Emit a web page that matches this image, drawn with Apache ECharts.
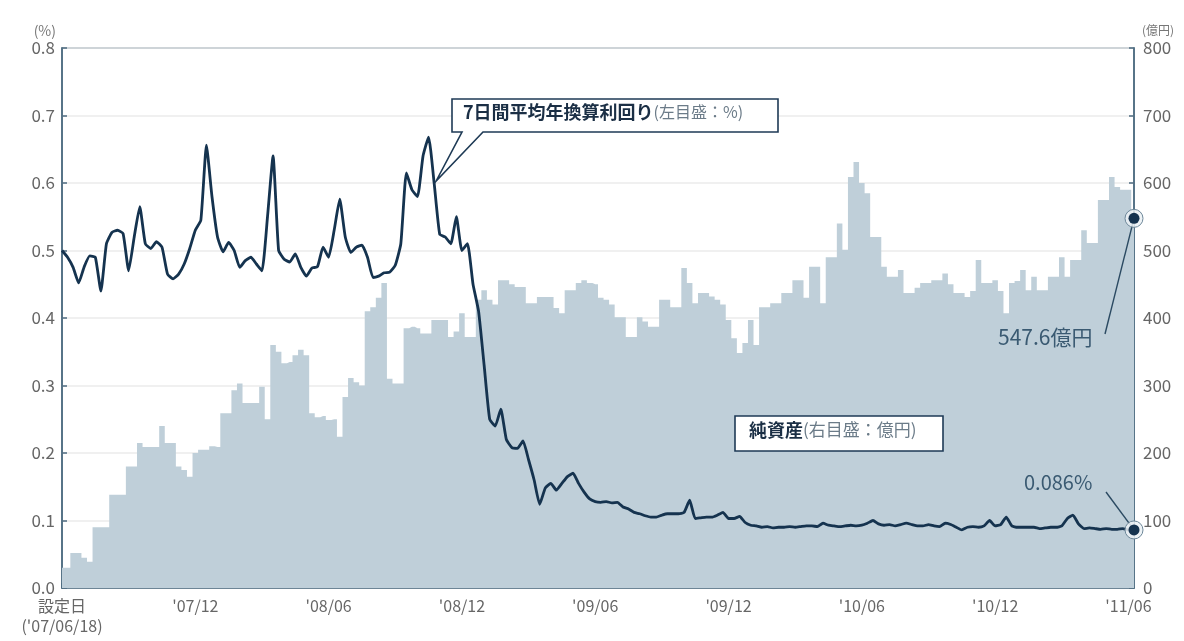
<!DOCTYPE html>
<html><head><meta charset="utf-8">
<script src="https://cdn.jsdelivr.net/npm/echarts@6/dist/echarts.min.js"></script>
<style>html,body{margin:0;padding:0;background:#fff}#c{width:1184px;height:641px}</style>
</head><body><div id="c"></div>
<script>
// 7日間平均年換算利回り (%), weekly from 設定日 2007/06/18
const yieldPct = [
0.50,0.49,0.475,0.452,0.476,0.492,0.49,0.44,0.51,0.527,
0.53,0.525,0.47,0.52,0.565,0.51,0.503,0.513,0.505,0.465,
0.458,0.465,0.48,0.503,0.53,0.545,0.656,0.58,0.52,0.498,
0.512,0.5,0.475,0.485,0.49,0.48,0.47,0.55,0.64,0.5,
0.487,0.483,0.495,0.475,0.462,0.474,0.476,0.505,0.49,0.53,
0.576,0.52,0.497,0.505,0.508,0.49,0.46,0.462,0.467,0.468,
0.478,0.51,0.615,0.59,0.58,0.64,0.668,0.6,0.524,0.52,
0.51,0.55,0.5,0.51,0.45,0.41,0.33,0.25,0.24,0.265,
0.22,0.208,0.207,0.218,0.19,0.16,0.124,0.148,0.155,0.145,
0.155,0.165,0.17,0.155,0.142,0.132,0.128,0.127,0.128,0.126,
0.127,0.12,0.117,0.112,0.11,0.107,0.105,0.105,0.108,0.11,
0.11,0.11,0.112,0.13,0.103,0.104,0.105,0.105,0.108,0.112,
0.103,0.103,0.106,0.097,0.093,0.092,0.09,0.091,0.089,0.09,
0.09,0.091,0.09,0.091,0.092,0.092,0.091,0.096,0.093,0.092,
0.091,0.092,0.093,0.092,0.093,0.096,0.1,0.095,0.093,0.094,
0.092,0.094,0.096,0.094,0.092,0.092,0.094,0.092,0.091,0.096,
0.094,0.09,0.086,0.09,0.091,0.09,0.092,0.1,0.092,0.094,
0.105,0.092,0.09,0.09,0.09,0.09,0.088,0.089,0.09,0.09,
0.092,0.103,0.108,0.095,0.088,0.089,0.088,0.087,0.088,0.087,
0.087,0.088,0.086,0.086
];
// 純資産 (億円), weekly
const netAssets = [
30,30,52,52,45,39,90,90,90,138,
138,138,180,180,215,209,209,209,240,215,
215,180,175,165,200,205,205,210,209,259,
259,293,303,274,274,274,298,250,360,350,
333,335,345,353,345,259,253,255,249,250,
224,283,311,305,300,410,416,430,452,310,
303,303,385,387,385,377,377,397,397,397,
372,380,407,372,372,427,441,427,420,456,
456,450,446,446,422,422,431,431,431,415,
407,441,441,452,456,452,450,430,427,420,
401,401,372,372,401,395,387,387,427,427,
416,416,474,452,422,437,437,432,427,420,
397,370,348,363,397,360,416,416,422,422,
437,437,456,456,430,476,476,422,490,490,
540,501,609,631,600,585,520,520,476,461,
461,471,437,437,445,452,452,456,456,466,
450,437,437,431,440,486,452,452,456,440,
407,452,455,471,441,461,441,441,461,461,
490,461,486,486,530,511,511,575,575,609,
594,590,590,547.6
];
const tickLabels = ["設定日\n('07/06/18)", "'07/12", "'08/06", "'08/12", "'09/06", "'09/12", "'10/06", "'10/12", "'11/06"];
const weeksPerTick = 24;
const weeks = yieldPct.map((_, i) => 'W' + i);

const FONT = '"Noto Sans CJK JP", "Noto Sans", sans-serif';
const AXIS = '#4d6b80';
const chart = echarts.init(document.getElementById('c'));
const isTick = (i) => i % weeksPerTick === 0;
chart.setOption({
  animation: false,
  textStyle: { fontFamily: FONT },
  grid: { left: 62, right: 50, top: 48, bottom: 53, show: true, borderColor: AXIS, borderWidth: 1.5, backgroundColor: 'transparent' },
  xAxis: {
    type: 'category', data: weeks, boundaryGap: false,
    axisLine: { lineStyle: { color: AXIS, width: 1.5 } },
    axisTick: { inside: true, length: 5, interval: (i) => isTick(i), lineStyle: { color: AXIS, width: 1.5 } },
    axisLabel: { interval: (i) => isTick(i), formatter: (v, i) => tickLabels[i / weeksPerTick], color: '#666', fontSize: 16, margin: 8, lineHeight: 20, hideOverlap: false, showMinLabel: true },
    splitLine: { show: false }
  },
  yAxis: [
    { type: 'value', min: 0, max: 0.8, interval: 0.1, name: '(%)', nameGap: 10,
      nameTextStyle: { color: '#777', fontSize: 14, align: 'right', padding: [0, 6, 0, 0] },
      axisLine: { show: true, lineStyle: { color: AXIS, width: 1.5 } },
      axisTick: { show: true, inside: true, length: 5, lineStyle: { color: AXIS, width: 1.5 } },
      axisLabel: { formatter: (v) => v.toFixed(1), color: '#666', fontSize: 17, margin: 7 },
      splitLine: { show: true, lineStyle: { color: '#ebebeb', width: 1.5 } } },
    { type: 'value', min: 0, max: 800, interval: 100, position: 'right', name: '(億円)', nameGap: 12,
      nameTextStyle: { color: '#777', fontSize: 12, align: 'left', padding: [0, 0, 0, 8] },
      axisLine: { show: true, lineStyle: { color: AXIS, width: 1.5 } },
      axisTick: { show: true, inside: true, length: 5, lineStyle: { color: AXIS, width: 1.5 } },
      axisLabel: { color: '#666', fontSize: 17, margin: 9 },
      splitLine: { show: false } }
  ],
  series: [
    { name: '純資産', type: 'line', yAxisIndex: 1, data: netAssets, symbol: 'none', step: 'middle',
      lineStyle: { width: 0 }, areaStyle: { color: '#bfcfd9', opacity: 1 }, z: 1 },
    { name: '7日間平均年換算利回り', type: 'line', yAxisIndex: 0, data: yieldPct, symbol: 'none', smooth: 0.15,
      lineStyle: { color: '#15334f', width: 2.8 }, z: 3 }
  ]
});

const last = yieldPct.length - 1;
const pY = chart.convertToPixel({ seriesIndex: 1 }, [last, yieldPct[last]]);
const pA = chart.convertToPixel({ seriesIndex: 0 }, [last, netAssets[last]]);
const calloutIdx = 67;
const pC = chart.convertToPixel({ seriesIndex: 1 }, [calloutIdx, yieldPct[calloutIdx]]);

const marker = (p) => [
  { type: 'circle', shape: { cx: p[0], cy: p[1], r: 9 }, style: { fill: 'rgba(235,241,245,0.85)', stroke: '#6d8799', lineWidth: 1 }, z: 20 },
  { type: 'circle', shape: { cx: p[0], cy: p[1], r: 5.5 }, style: { fill: '#15334f' }, z: 21 }
];
chart.setOption({
  graphic: [
    { type: 'polygon', shape: { points: [[452, 99], [778, 99], [778, 132], [483, 132], [pC[0] + 2, pC[1] - 2], [462, 132], [452, 132]] },
      style: { fill: '#fff', stroke: '#1e3a55', lineWidth: 1.6 }, z: 30 },
    { type: 'text', left: 463, top: 103, z: 31,
      style: { text: '{a|7日間平均年換算利回り}{b|(左目盛：%)}', rich: {
        a: { fontFamily: FONT, fontSize: 18, fontWeight: 'bold', fill: '#1b2f45' },
        b: { fontFamily: FONT, fontSize: 16, fill: '#6b7b88' } } } },
    { type: 'rect', shape: { x: 735, y: 416, width: 208, height: 35 }, style: { fill: '#fff', stroke: '#1e3a55', lineWidth: 1.6 }, z: 30 },
    { type: 'text', left: 749, top: 421, z: 31,
      style: { text: '{a|純資産}{b|(右目盛：億円)}', rich: {
        a: { fontFamily: FONT, fontSize: 18, fontWeight: 'bold', fill: '#1b2f45' },
        b: { fontFamily: FONT, fontSize: 17, fill: '#6b7b88' } } } },
    { type: 'line', shape: { x1: 1105, y1: 334, x2: pA[0], y2: pA[1] }, style: { stroke: '#2b4a62', lineWidth: 1.4 }, z: 19 },
    { type: 'text', left: 998, top: 327, z: 31, style: { text: '547.6億円', fontFamily: FONT, fontSize: 21, fill: '#3a5a72' } },
    { type: 'line', shape: { x1: 1106, y1: 492, x2: pY[0], y2: pY[1] }, style: { stroke: '#2b4a62', lineWidth: 1.4 }, z: 19 },
    { type: 'text', left: 1024, top: 472, z: 31, style: { text: '0.086%', fontFamily: FONT, fontSize: 20, fill: '#3a5a72' } },
    ...marker(pA), ...marker(pY)
  ]
});
</script>
</body></html>
